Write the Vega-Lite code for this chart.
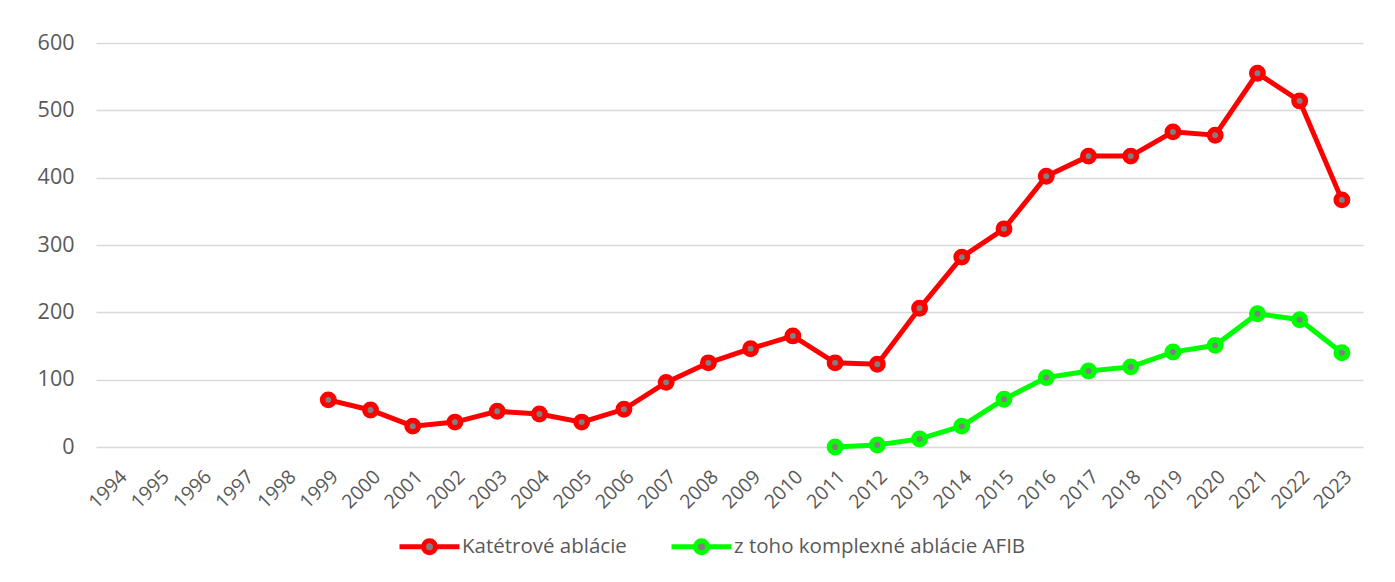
{
  "$schema": "https://vega.github.io/schema/vega-lite/v6.json",
  "autosize": "none",
  "width": 1267,
  "height": 404,
  "padding": {"left": 96, "top": 43, "right": 32, "bottom": 135},
  "background": "white",
  "config": {
    "view": {"stroke": null},
    "font": "Open Sans",
    "axis": {"labelFont": "Open Sans", "labelColor": "#595959", "domain": false, "ticks": false, "title": null}
  },
  "data": {
    "values": [
      {"year": "1999", "series": "Katétrové ablácie", "value": 70},
      {"year": "2000", "series": "Katétrové ablácie", "value": 55},
      {"year": "2001", "series": "Katétrové ablácie", "value": 31},
      {"year": "2002", "series": "Katétrové ablácie", "value": 37},
      {"year": "2003", "series": "Katétrové ablácie", "value": 53},
      {"year": "2004", "series": "Katétrové ablácie", "value": 49},
      {"year": "2005", "series": "Katétrové ablácie", "value": 37},
      {"year": "2006", "series": "Katétrové ablácie", "value": 56},
      {"year": "2007", "series": "Katétrové ablácie", "value": 96},
      {"year": "2008", "series": "Katétrové ablácie", "value": 125},
      {"year": "2009", "series": "Katétrové ablácie", "value": 146},
      {"year": "2010", "series": "Katétrové ablácie", "value": 165},
      {"year": "2011", "series": "Katétrové ablácie", "value": 125},
      {"year": "2012", "series": "Katétrové ablácie", "value": 123},
      {"year": "2013", "series": "Katétrové ablácie", "value": 206},
      {"year": "2014", "series": "Katétrové ablácie", "value": 282},
      {"year": "2015", "series": "Katétrové ablácie", "value": 324},
      {"year": "2016", "series": "Katétrové ablácie", "value": 402},
      {"year": "2017", "series": "Katétrové ablácie", "value": 432},
      {"year": "2018", "series": "Katétrové ablácie", "value": 432},
      {"year": "2019", "series": "Katétrové ablácie", "value": 468},
      {"year": "2020", "series": "Katétrové ablácie", "value": 463},
      {"year": "2021", "series": "Katétrové ablácie", "value": 555},
      {"year": "2022", "series": "Katétrové ablácie", "value": 514},
      {"year": "2023", "series": "Katétrové ablácie", "value": 367},
      {"year": "2011", "series": "z toho komplexné ablácie AFIB", "value": 0},
      {"year": "2012", "series": "z toho komplexné ablácie AFIB", "value": 3},
      {"year": "2013", "series": "z toho komplexné ablácie AFIB", "value": 12},
      {"year": "2014", "series": "z toho komplexné ablácie AFIB", "value": 31},
      {"year": "2015", "series": "z toho komplexné ablácie AFIB", "value": 71},
      {"year": "2016", "series": "z toho komplexné ablácie AFIB", "value": 103},
      {"year": "2017", "series": "z toho komplexné ablácie AFIB", "value": 113},
      {"year": "2018", "series": "z toho komplexné ablácie AFIB", "value": 119},
      {"year": "2019", "series": "z toho komplexné ablácie AFIB", "value": 141},
      {"year": "2020", "series": "z toho komplexné ablácie AFIB", "value": 151},
      {"year": "2021", "series": "z toho komplexné ablácie AFIB", "value": 198},
      {"year": "2022", "series": "z toho komplexné ablácie AFIB", "value": 189},
      {"year": "2023", "series": "z toho komplexné ablácie AFIB", "value": 140}
    ]
  },
  "encoding": {
    "x": {
      "field": "year", "type": "ordinal",
      "scale": {"type": "point", "padding": 0.5, "domain": ["1994","1995","1996","1997","1998","1999","2000","2001","2002","2003","2004","2005","2006","2007","2008","2009","2010","2011","2012","2013","2014","2015","2016","2017","2018","2019","2020","2021","2022","2023"]},
      "axis": {"labelAngle": -45, "labelFontSize": 19.5, "labelPadding": 20, "grid": false}
    },
    "y": {
      "field": "value", "type": "quantitative",
      "scale": {"domain": [0, 600], "nice": false},
      "axis": {"values": [0, 100, 200, 300, 400, 500, 600], "labelFontSize": 21.5, "labelPadding": 22, "grid": true, "gridColor": "#d9d9d9", "gridWidth": 1.5}
    },
    "color": {
      "field": "series", "type": "nominal",
      "scale": {"domain": ["Katétrové ablácie", "z toho komplexné ablácie AFIB"], "range": ["#ff0000", "#00ff00"]},
      "legend": {
        "orient": "none", "direction": "horizontal", "legendX": 301, "legendY": 471, "title": null,
        "symbolType": "M-1,0H-0.2M0.2,0H1M-0.2,0A0.2,0.2 0 1,1 0.2,0A0.2,0.2 0 1,1 -0.2,0Z",
        "symbolSize": 3600, "symbolStrokeWidth": 5, "symbolFillColor": "#808080",
        "labelFontSize": 20.5, "labelColor": "#595959", "labelFont": "Open Sans", "labelOffset": 0, "labelLimit": 0, "columnPadding": 34,
        "encode": {"symbols": {"update": {"fill": {"value": "#808080"}, "opacity": {"value": 1}}}}
      }
    }
  },
  "layer": [
    {"mark": {"type": "line", "strokeWidth": 5}},
    {"mark": {"type": "point", "filled": false, "fill": "#808080", "fillOpacity": 1, "opacity": 1, "size": 130, "strokeWidth": 5.5, "shape": "circle"}}
  ]
}
